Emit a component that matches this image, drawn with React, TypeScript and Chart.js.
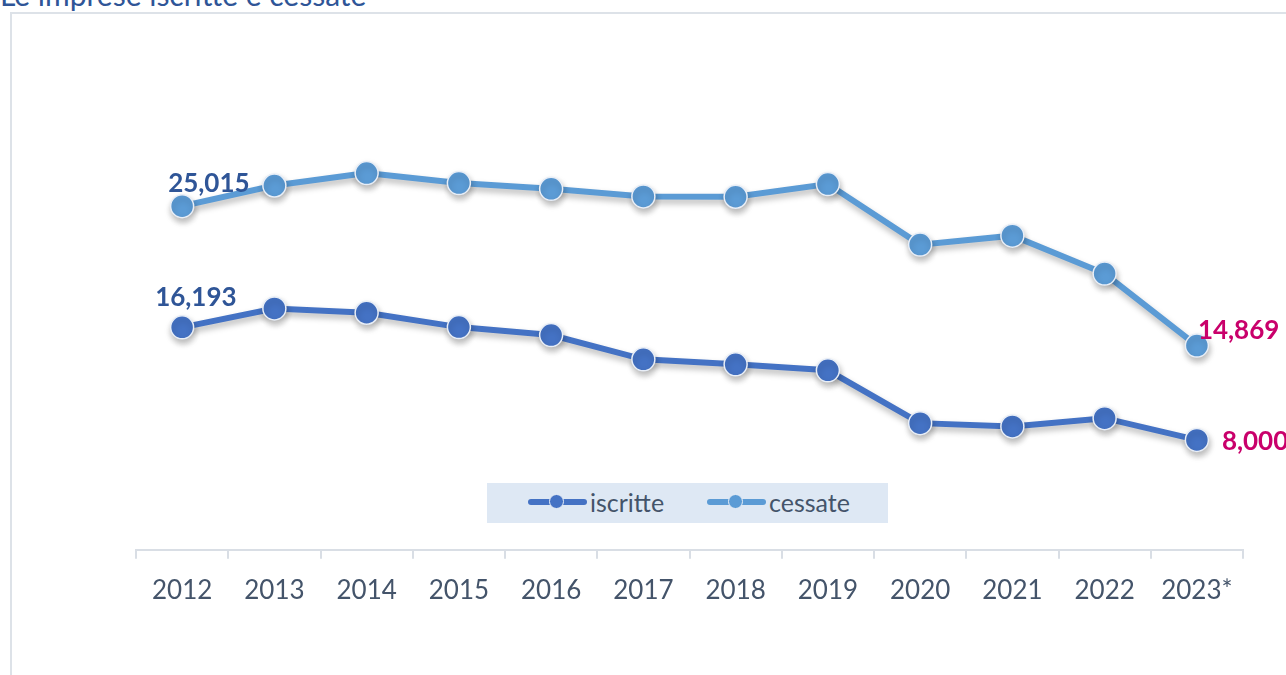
import React, { useEffect, useRef } from "react";
import { Chart, registerables } from "chart.js";

Chart.register(...registerables);

const categories = ["2012", "2013", "2014", "2015", "2016", "2017", "2018", "2019", "2020", "2021", "2022", "2023*"];
const iscritte = [16193, 17569, 17257, 16211, 15631, 13867, 13504, 13068, 9220, 8981, 9583, 8000];
const cessate = [25015, 26521, 27421, 26695, 26281, 25722, 25700, 26622, 22216, 22869, 20110, 14869];

const FONT = "Lato, 'Open Sans', sans-serif";
const TEXT_COLOR = "#44546A";
const DARK_BLUE = "#2F5597";
const MAGENTA = "#C9006B";
const C_ISCRITTE = "#4472C4";
const C_CESSATE = "#5B9BD5";

const shadowPlugin = {
  id: "shadowPlugin",
  beforeDatasetsDraw(chart: any) {
    const ctx = chart.ctx;
    ctx.save();
    ctx.shadowColor = "rgba(0,0,0,0.28)";
    ctx.shadowBlur = 6;
    ctx.shadowOffsetX = 1;
    ctx.shadowOffsetY = 4;
  },
  afterDatasetsDraw(chart: any) {
    chart.ctx.restore();
  },
};

const labelPlugin = {
  id: "labelPlugin",
  afterDraw(chart: any) {
    const ctx = chart.ctx;
    const fmt = (v: number) => v.toLocaleString("en-US");
    const draw = (dsIndex: number, idx: number, dx: number, dy: number, color: string) => {
      const meta = chart.getDatasetMeta(dsIndex);
      const pt = meta.data[idx];
      const value = chart.data.datasets[dsIndex].data[idx];
      ctx.save();
      ctx.font = `bold 26px ${FONT}`;
      ctx.fillStyle = color;
      ctx.textAlign = "left";
      ctx.textBaseline = "middle";
      ctx.fillText(fmt(value), pt.x + dx, pt.y + dy);
      ctx.restore();
    };
    const last = categories.length - 1;
    draw(1, 0, -14, -23, DARK_BLUE);
    draw(0, 0, -27, -30, DARK_BLUE);
    draw(1, last, 1, -15, MAGENTA);
    draw(0, last, 25, 2, MAGENTA);
  },
};

function LegendSymbol({ color }: { color: string }) {
  return (
    <span style={{ position: "relative", display: "inline-block", width: 59, height: 16, marginRight: 3 }}>
      <span style={{ position: "absolute", left: 0, top: 5, width: 59, height: 6, borderRadius: 3, background: color }} />
      <span
        style={{
          position: "absolute",
          left: 21,
          top: 0,
          width: 13,
          height: 13,
          borderRadius: "50%",
          background: color,
          border: "1.5px solid #e8eef7",
        }}
      />
    </span>
  );
}

export default function App() {
  const canvasRef = useRef<HTMLCanvasElement>(null);

  useEffect(() => {
    if (!canvasRef.current) return;
    const chart = new Chart(canvasRef.current, {
      type: "line",
      data: {
        labels: categories,
        datasets: [
          {
            label: "iscritte",
            data: iscritte,
            borderColor: C_ISCRITTE,
            backgroundColor: C_ISCRITTE,
            borderWidth: 6,
            pointRadius: 11.5,
            pointBackgroundColor: C_ISCRITTE,
            pointBorderColor: "#e8eef7",
            pointBorderWidth: 1.5,
            tension: 0,
          },
          {
            label: "cessate",
            data: cessate,
            borderColor: C_CESSATE,
            backgroundColor: C_CESSATE,
            borderWidth: 6,
            pointRadius: 11.5,
            pointBackgroundColor: C_CESSATE,
            pointBorderColor: "#e8eef7",
            pointBorderWidth: 1.5,
            tension: 0,
          },
        ],
      },
      options: {
        responsive: false,
        animation: false,
        layout: { padding: { left: 136, right: 43, top: 69, bottom: 53 } },
        plugins: {
          legend: { display: false },
          tooltip: { enabled: false },
          title: { display: false },
        },
        scales: {
          x: {
            offset: true,
            grid: {
              display: true,
              offset: true,
              drawOnChartArea: false,
              drawTicks: true,
              tickLength: 9,
              color: "#D9DEE5",
              lineWidth: 2,
            },
            border: { display: true, color: "#D9DEE5", width: 2 },
            ticks: {
              color: TEXT_COLOR,
              font: { family: FONT, size: 26 },
              padding: 16,
              maxRotation: 0,
              autoSkip: false,
            },
          },
          y: {
            display: false,
            min: 0,
            max: 35000,
          },
        },
      },
      plugins: [shadowPlugin, labelPlugin],
    });
    return () => chart.destroy();
  }, []);

  return (
    <div style={{ position: "fixed", left: 0, top: 0, width: 1286, height: 675, background: "#fff", overflow: "hidden" }}>
      <div
        style={{
          position: "absolute",
          left: 0,
          top: -23,
          fontFamily: FONT,
          fontSize: 30,
          color: DARK_BLUE,
          whiteSpace: "nowrap",
          lineHeight: "34px",
        }}
      >
        Le imprese iscritte e cessate
      </div>
      <div
        style={{
          position: "absolute",
          left: 10,
          top: 12,
          width: 1400,
          height: 800,
          border: "2px solid #DDE2E8",
          boxSizing: "border-box",
        }}
      />
      <canvas ref={canvasRef} width={1286} height={675} style={{ position: "absolute", left: 0, top: 0 }} />
      <div
        style={{
          position: "absolute",
          left: 487,
          top: 483,
          width: 401,
          height: 40,
          background: "#DEE8F4",
          display: "flex",
          alignItems: "center",
          fontFamily: FONT,
          fontSize: 25,
          color: TEXT_COLOR,
        }}
      >
        <span style={{ position: "absolute", left: 41, top: 4, display: "flex", alignItems: "center" }}>
          <LegendSymbol color={C_ISCRITTE} />
          <span>iscritte</span>
        </span>
        <span style={{ position: "absolute", left: 220, top: 4, display: "flex", alignItems: "center" }}>
          <LegendSymbol color={C_CESSATE} />
          <span>cessate</span>
        </span>
      </div>
    </div>
  );
}
